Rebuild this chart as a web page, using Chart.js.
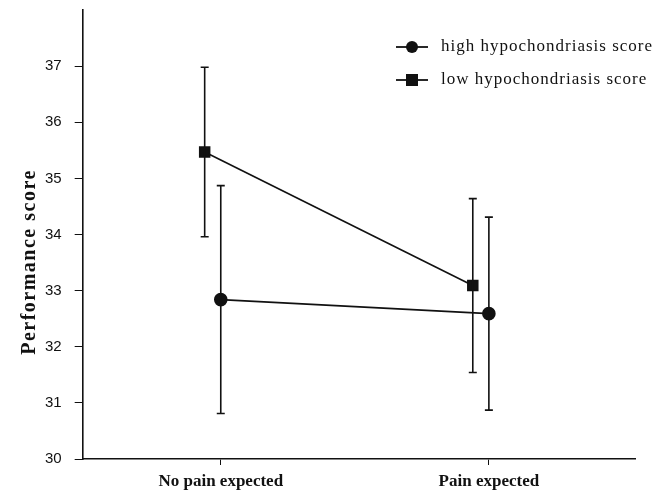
<!DOCTYPE html>
<html>
<head>
<meta charset="utf-8">
<script src="https://cdn.jsdelivr.net/npm/chart.js@4/dist/chart.umd.min.js"></script>
<style>
  html, body { margin: 0; padding: 0; background: #fff; }
  #wrap { width: 661px; height: 491px; }
</style>
</head>
<body>
<div id="wrap"><canvas id="chart"></canvas></div>
<script>
// categories on the x axis
var categories = ['No pain expected', 'Pain expected']
// mean performance scores
var highScores = [32.84, 32.59]
var lowScores = [35.47, 33.09]
// error bar half-widths
var highErr = [2.03, 1.72]
var lowErr = [1.51, 1.55]
var seriesLabels = ['high hypochondriasis score', 'low hypochondriasis score']

var dodge = 0.06
var ink = '#111'

function points(values, errs, shift) {
	return values.map(function(v, i) {
		return { x: i + 1 + shift, y: v, err: errs[i] }
	})
}

// vertical error bars with caps
var errorBars = {
	id: 'errorBars',
	afterDatasetsDraw: function(chart) {
		var ctx = chart.ctx
		var xs = chart.scales.x, ys = chart.scales.y
		ctx.save()
		ctx.strokeStyle = ink
		ctx.lineWidth = 1.6
		chart.data.datasets.forEach(function(ds) {
			ds.data.forEach(function(p) {
				var x = xs.getPixelForValue(p.x)
				var top = ys.getPixelForValue(p.y + p.err)
				var bot = ys.getPixelForValue(p.y - p.err)
				ctx.beginPath()
				ctx.moveTo(x, top); ctx.lineTo(x, bot)
				ctx.moveTo(x - 4, top); ctx.lineTo(x + 4, top)
				ctx.moveTo(x - 4, bot); ctx.lineTo(x + 4, bot)
				ctx.stroke()
			})
		})
		ctx.restore()
	}
}

// legend with line + marker, and the rotated y title
var extras = {
	id: 'extras',
	afterDraw: function(chart) {
		var ctx = chart.ctx
		ctx.save()
		ctx.fillStyle = ink
		ctx.strokeStyle = ink
		chart.data.datasets.forEach(function(ds, i) {
			var y = 47 + i * 33
			ctx.lineWidth = 1.8
			ctx.beginPath()
			ctx.moveTo(396, y); ctx.lineTo(428, y)
			ctx.stroke()
			if (ds.pointStyle === 'rect') {
				ctx.fillRect(412 - 6, y - 6, 12, 12)
			} else {
				ctx.beginPath()
				ctx.arc(412, y, 6, 0, Math.PI * 2)
				ctx.fill()
			}
			ctx.font = '17px "Liberation Serif", serif'
			ctx.letterSpacing = '1px'
			ctx.textBaseline = 'middle'
			ctx.textAlign = 'left'
			ctx.fillText(ds.label, 441, y)
		})
		ctx.translate(30, 262)
		ctx.rotate(-Math.PI / 2)
		ctx.font = 'bold 20px "Liberation Serif", serif'
		ctx.letterSpacing = '1.5px'
		ctx.textAlign = 'center'
		ctx.textBaseline = 'middle'
		ctx.fillText('Performance score', 0, 0)
		ctx.restore()
	}
}

new Chart(document.getElementById('chart').getContext('2d'), {
	type: 'line',
	data: {
		datasets: [
			{
				label: seriesLabels[0],
				data: points(highScores, highErr, 0),
				borderColor: ink, backgroundColor: ink,
				borderWidth: 1.6, pointStyle: 'circle', pointRadius: 6
			},
			{
				label: seriesLabels[1],
				data: points(lowScores, lowErr, -dodge),
				borderColor: ink, backgroundColor: ink,
				borderWidth: 1.6, pointStyle: 'rect', pointRadius: 7
			}
		]
	},
	options: {
		responsive: true,
		maintainAspectRatio: false,
		animation: false,
		layout: { padding: { left: 32, top: 10, right: 26, bottom: 0 } },
		plugins: { legend: { display: false }, tooltip: { enabled: false } },
		scales: {
			x: {
				type: 'linear',
				min: 0.485, max: 2.545,
				afterBuildTicks: function(scale) {
					scale.ticks = categories.map(function(c, i) { return { value: i + 1 } })
				},
				afterFit: function(scale) {
					scale.height = 32
					scale.paddingLeft = 0
					scale.paddingRight = 0
				},
				grid: { drawOnChartArea: false, color: ink, tickLength: 6 },
				border: { color: ink, width: 1.6 },
				ticks: {
					color: ink, padding: 6, maxRotation: 0,
					font: { family: '"Liberation Serif", serif', size: 17, weight: 'bold' },
					callback: function(v) { return categories[v - 1] }
				}
			},
			y: {
				min: 30, max: 38,
				afterBuildTicks: function(scale) {
					scale.ticks = scale.ticks.filter(function(t) { return t.value <= 37 })
				},
				afterFit: function(scale) {
					scale.paddingTop = 0
					scale.paddingBottom = 0
				},
				grid: { drawOnChartArea: false, color: ink, tickLength: 8 },
				border: { color: ink, width: 1.6 },
				ticks: {
					stepSize: 1, color: ink, padding: 13,
					font: { family: '"Liberation Sans", sans-serif', size: 15 }
				}
			}
		}
	},
	plugins: [errorBars, extras]
})
</script>
</body>
</html>
